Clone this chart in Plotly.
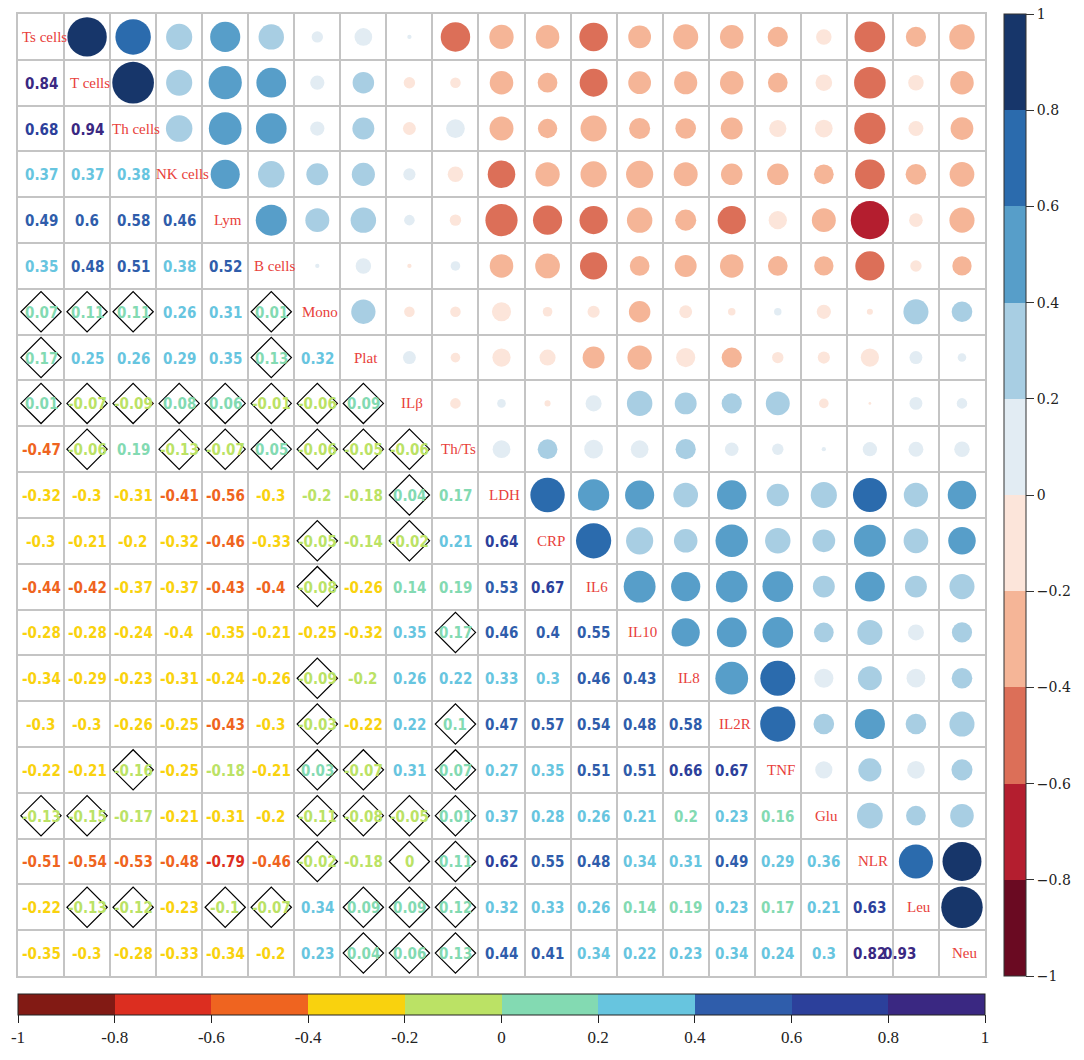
import math
import plotly.graph_objects as go

variables = ["Ts cells", "T cells", "Th cells", "NK cells", "Lym", "B cells", "Mono", "Plat",
             "ILβ", "Th/Ts", "LDH", "CRP", "IL6", "IL10", "IL8", "IL2R", "TNF", "Glu",
             "NLR", "Leu", "Neu"]

# Lower triangle of the correlation matrix: row i holds r(i, j) for j < i
r_lower = [
    [],
    [0.84],
    [0.68, 0.94],
    [0.37, 0.37, 0.38],
    [0.49, 0.598, 0.58, 0.46],
    [0.35, 0.48, 0.51, 0.38, 0.52],
    [0.07, 0.11, 0.11, 0.26, 0.31, 0.01],
    [0.17, 0.25, 0.26, 0.29, 0.35, 0.13, 0.32],
    [0.01, -0.07, -0.09, 0.08, 0.06, -0.01, -0.06, 0.09],
    [-0.47, -0.06, 0.19, -0.13, -0.07, 0.05, -0.06, -0.05, -0.06],
    [-0.32, -0.3, -0.31, -0.41, -0.56, -0.3, -0.198, -0.18, 0.04, 0.17],
    [-0.3, -0.21, -0.202, -0.32, -0.46, -0.33, -0.05, -0.14, -0.02, 0.21, 0.64],
    [-0.44, -0.42, -0.37, -0.37, -0.43, -0.402, -0.08, -0.26, 0.14, 0.19, 0.53, 0.67],
    [-0.28, -0.28, -0.24, -0.398, -0.35, -0.21, -0.25, -0.32, 0.35, 0.17, 0.46, 0.4, 0.55],
    [-0.34, -0.29, -0.23, -0.31, -0.24, -0.26, -0.09, -0.198, 0.26, 0.22, 0.33, 0.3, 0.46, 0.43],
    [-0.3, -0.3, -0.26, -0.25, -0.43, -0.3, -0.03, -0.22, 0.22, 0.1, 0.47, 0.57, 0.54, 0.48, 0.58],
    [-0.22, -0.21, -0.16, -0.25, -0.18, -0.21, 0.03, -0.07, 0.31, 0.07, 0.27, 0.35, 0.51, 0.51,
     0.66, 0.67],
    [-0.13, -0.15, -0.17, -0.21, -0.31, -0.202, -0.11, -0.08, -0.05, 0.01, 0.37, 0.28, 0.26, 0.21,
     0.198, 0.23, 0.16],
    [-0.51, -0.54, -0.53, -0.48, -0.79, -0.46, -0.02, -0.18, -0.004, 0.11, 0.62, 0.55, 0.48, 0.34,
     0.31, 0.49, 0.29, 0.36],
    [-0.22, -0.13, -0.12, -0.23, -0.1, -0.07, 0.34, 0.09, 0.09, 0.12, 0.32, 0.33, 0.26, 0.14,
     0.19, 0.23, 0.17, 0.21, 0.63],
    [-0.35, -0.3, -0.28, -0.33, -0.34, -0.202, 0.23, 0.04, 0.06, 0.13, 0.44, 0.41, 0.34, 0.22,
     0.23, 0.34, 0.24, 0.3, 0.82, 0.93],
]

# Column indices (j < i) of pairs that are not significant, per row
not_significant = [
    [], [], [], [], [], [],
    [0, 1, 2, 5],
    [0, 5],
    [0, 1, 2, 3, 4, 5, 6, 7],
    [1, 3, 4, 5, 6, 7, 8],
    [8],
    [6, 8],
    [6],
    [9],
    [6],
    [6, 9],
    [2, 6, 7, 9],
    [0, 1, 6, 7, 8, 9],
    [6, 8, 9],
    [1, 2, 4, 5, 7, 8, 9],
    [7, 8, 9],
]

# Colour classes (10 bins over -1..1)
number_colors = ["#821A14", "#DC2E20", "#EF6420", "#F9D20E", "#BBE265",
                 "#83DAB2", "#67C5DF", "#2F5DAB", "#2C409B", "#3A2882"]
circle_colors = ["#6A0A22", "#B41E2F", "#DC6F58", "#F5B597", "#FCE5DA",
                 "#E2ECF3", "#A8CEE3", "#579EC9", "#2B6BAD", "#17366A"]
bar_ticks = [-1, -0.8, -0.6, -0.4, -0.2, 0, 0.2, 0.4, 0.6, 0.8, 1]

LABEL_RED = "#E8403A"
GRID = "#C4C4C4"
NUM_FONT = "DejaVu Sans Condensed, Liberation Sans Narrow, Liberation Sans, sans-serif"
SERIF = "Liberation Serif, serif"
MAX_DIAMETER = 43
label_xshift = {(20, 19): -16}

n = len(variables)


def bin_low(v):
    k = math.floor(round((v + 1) / 0.2, 6))
    return min(max(k, 0), 9)


def bin_high(v):
    k = math.ceil(round((v + 1) / 0.2, 6)) - 1
    return min(max(k, 0), 9)


def fmt(v):
    s = f"{round(v, 2):.2f}".rstrip("0").rstrip(".")
    return "0" if s in ("-0", "") else s


def stepped(colors):
    scale = []
    for k, c in enumerate(colors):
        scale.append([k / len(colors), c])
        scale.append([(k + 1) / len(colors), c])
    return scale


fig = go.Figure()

# Upper triangle: circles, area proportional to |r|
cx, cy, csize, ccol = [], [], [], []
for i in range(n):
    for j in range(i + 1, n):
        r = r_lower[j][i]
        cx.append(j)
        cy.append(i)
        csize.append(MAX_DIAMETER * math.sqrt(abs(r)))
        ccol.append(circle_colors[bin_high(r)])
fig.add_trace(go.Scatter(
    x=cx, y=cy, mode="markers", hoverinfo="skip", showlegend=False,
    marker=dict(size=csize, color=ccol, opacity=1, line=dict(width=0)),
))

# Diamonds flagging non-significant pairs
dx, dy = [], []
for i, cols in enumerate(not_significant):
    for j in cols:
        dx.append(j)
        dy.append(i)
fig.add_trace(go.Scatter(
    x=dx, y=dy, mode="markers", hoverinfo="skip", showlegend=False,
    marker=dict(symbol="diamond-open", size=31, color="black", opacity=1,
                line=dict(width=1.2, color="black")),
))

# Colour bars
fig.add_trace(go.Scatter(
    x=[None], y=[None], mode="markers", showlegend=False, hoverinfo="skip",
    marker=dict(
        colorscale=stepped(circle_colors), cmin=-1, cmax=1, color=[0], showscale=True,
        colorbar=dict(
            x=1.0195, xanchor="left", xpad=0, y=0.5, yanchor="middle", ypad=0,
            len=1, lenmode="fraction", thickness=22,
            outlinewidth=1, outlinecolor="#333333",
            tickvals=bar_ticks, ticks="outside", ticklen=8, tickcolor="#333333",
            tickfont=dict(family="DejaVu Serif, serif", size=14, color="#222222"),
        ),
    ),
))
fig.add_trace(go.Scatter(
    x=[None], y=[None], mode="markers", showlegend=False, hoverinfo="skip",
    marker=dict(
        colorscale=stepped(number_colors), cmin=-1, cmax=1, color=[0], showscale=True,
        colorbar=dict(
            orientation="h", x=0.5, xanchor="center", xpad=0, y=-0.0185, yanchor="top", ypad=0,
            len=1, lenmode="fraction", thickness=21,
            outlinewidth=1, outlinecolor="#222222",
            tickvals=bar_ticks, ticktext=[f"{t:g}" for t in bar_ticks],
            ticks="outside", ticklen=8, tickcolor="#222222",
            tickfont=dict(family=SERIF, size=17, color="#222222"),
        ),
    ),
))

annotations = []
# Variable names on the diagonal
for k, name in enumerate(variables):
    annotations.append(dict(
        x=k, y=k, xref="x", yref="y", text=name, showarrow=False, xshift=3,
        font=dict(family=SERIF, size=15, color=LABEL_RED),
    ))
# Lower triangle: coefficient values
for i in range(n):
    for j, r in enumerate(r_lower[i]):
        annotations.append(dict(
            x=j, y=i, xref="x", yref="y", text=f"<b>{fmt(r)}</b>", showarrow=False,
            xshift=label_xshift.get((i, j), 0), yshift=-1,
            font=dict(family=NUM_FONT, size=15, color=number_colors[bin_low(r)]),
        ))

grid_vals = [k - 0.5 for k in range(n + 1)]
axis_style = dict(
    tickvals=grid_vals, showticklabels=False, ticks="", showgrid=True,
    gridcolor=GRID, gridwidth=1.5, zeroline=False,
    showline=True, mirror=True, linecolor=GRID, linewidth=1.5,
)
fig.update_layout(
    width=1084, height=1060,
    margin=dict(l=18, r=93, t=12, b=75, pad=0),
    paper_bgcolor="white", plot_bgcolor="white",
    xaxis=dict(range=[-0.5, n - 0.5], **axis_style),
    yaxis=dict(range=[n - 0.5, -0.5], **axis_style),
    annotations=annotations,
)

fig.write_html("out.html")
